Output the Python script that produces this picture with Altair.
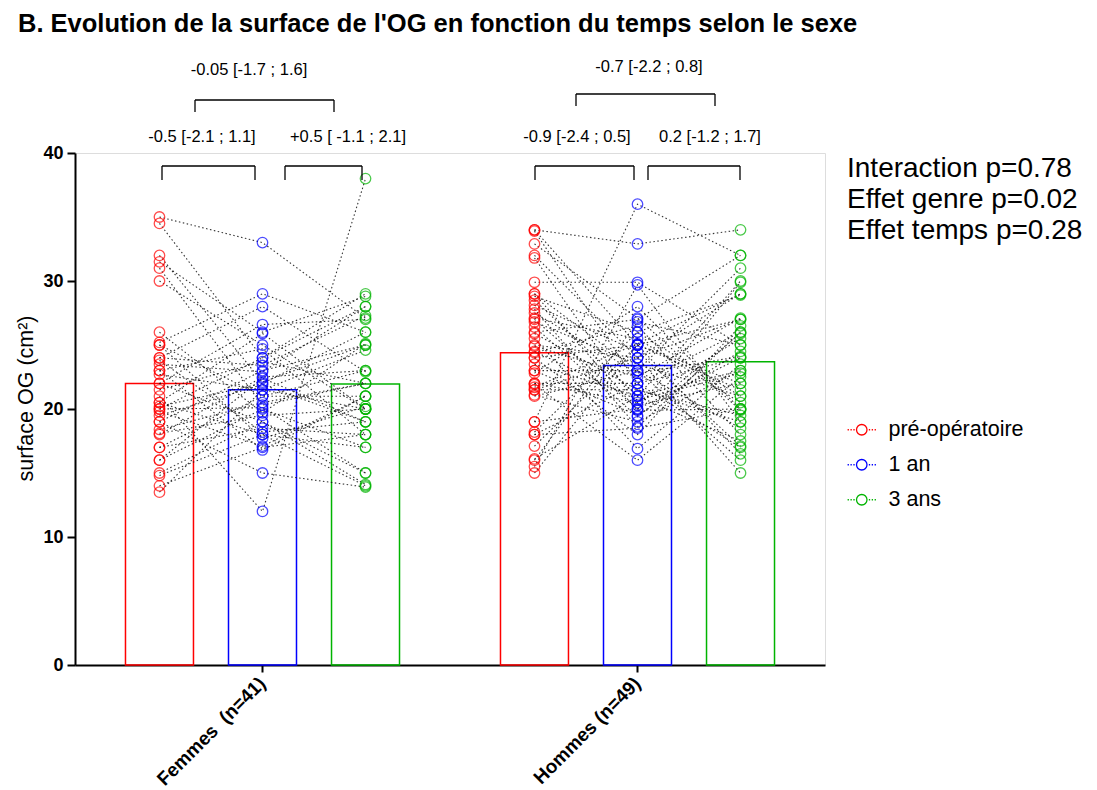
import altair as alt
import pandas as pd

title_text = "B. Evolution de la surface de l'OG en fonction du temps selon le sexe"
groups = ["Femmes \u00a0(n=41)", "Hommes (n=49)"]
times = ["pré-opératoire", "1 an", "3 ans"]
colors = ["#FF0000", "#0000FF", "#00B400"]

# Femmes, one value per patient (same patient order in the three lists)
femmes_pre = [35, 34.5, 32, 31.5, 31, 30, 26, 25.2, 25, 25, 24, 24, 23.8, 23.5, 23, 23, 22.7, 22, 22, 21.5,
              21, 20.5, 20.5, 20.2, 20, 20, 19.8, 19.5, 19, 19, 18.4, 18.1, 18, 17, 17, 16, 16, 15, 14.8, 14, 13.5]
femmes_1an = [33, 24, 22.1, 26, 20.3, 25, 19.7, 29, 21, 17.7, 23.4, 28, 18.2, 22.9, 24.7, 16.8, 21.5, 26.6, 19, 23.7,
              12, 25.9, 18, 22, 20.1, 24, 17.1, 21.9, 15, 23, 20.5, 19.5, 22.5, 18.5, 21, 20, 22.4, 19, 18, 17, 21.5]
femmes_3ans = [27.1, 29, 25, 28.8, 22, 20, 25.1, 26, 23, 20.2, 27.3, 22.9, 19, 28, 18, 21, 24.6, 27, 14.1, 22,
               38, 20, 17, 26, 15, 28, 21, 19, 13.9, 25, 22, 20, 23, 18, 21, 17, 19, 15, 14, 18, 20]

# Hommes
hommes_pre = [34, 34, 33.9, 32.9, 32, 31.8, 29.9, 29, 29, 28.8, 28.5, 28.1, 27.8, 27.5, 27.1, 27, 26.8, 26.4, 26, 25.9,
              25.5, 25, 24.9, 24.5, 24.4, 24, 24, 23.5, 23, 23, 22.8, 22, 22, 21.9, 21.7, 21.5, 21.5, 21.1, 21, 19,
              19, 18.2, 18, 18, 17.1, 16.1, 16, 15.5, 15]
hommes_1an = [25, 32.9, 22, 27.1, 24, 20.3, 29.9, 23, 19.9, 26, 21, 24.5, 18.6, 22.8, 25.5, 20, 23.5, 19.4, 27, 21.5,
              16.9, 24, 22.5, 20.7, 26.5, 18, 25, 21, 23, 19.5, 28, 20.5, 22, 16, 25.1, 21.5, 24, 19, 23, 36,
              20, 26, 22, 18.5, 25, 21, 26.8, 29.7, 25]
hommes_3ans = [27, 34, 24, 19.9, 29, 22, 25, 31, 20, 28.9, 23, 17.1, 26, 24.1, 20.5, 29.9, 21, 25.9, 32, 19,
               23.5, 15, 27.1, 22.8, 18, 26.5, 21.5, 30, 16, 24.5, 20, 25.5, 17, 22.5, 29, 19.5, 27, 23, 18.5, 32,
               24, 21, 26, 20, 22, 17.5, 25, 19, 16.5]

# bar heights (group means)
bar_femmes = [22.0, 21.5, 21.95]
bar_hommes = [24.4, 23.4, 23.7]

stats_lines = ["Interaction p=0.78", "Effet genre p=0.02", "Effet temps p=0.28"]

comparisons = [
    ("-0.05 [-1.7 ; 1.6]", "-0.5 [-2.1 ; 1.1]", "+0.5 [ -1.1 ; 2.1]"),
    ("-0.7 [-2.2 ; 0.8]", "-0.9 [-2.4 ; 0.5]", "0.2 [-1.2 ; 1.7]"),
]

FONT = "Liberation Sans, Arial, Helvetica, sans-serif"

# ---------- tables ----------
rows = []
for g, series in zip(groups, [(femmes_pre, femmes_1an, femmes_3ans), (hommes_pre, hommes_1an, hommes_3ans)]):
    for i in range(len(series[0])):
        for k, t in enumerate(times):
            rows.append({"groupe": g, "temps": t, "k": k, "patient": f"{g}-{i}", "surface": series[k][i]})
df = pd.DataFrame(rows)

bar_rows = []
for g, means in zip(groups, [bar_femmes, bar_hommes]):
    for t, m in zip(times, means):
        bar_rows.append({"groupe": g, "temps": t, "surface": m})
bars_df = pd.DataFrame(bar_rows)

one = pd.DataFrame({"k": [0]})

# ---------- encodings ----------
x_enc = alt.X(
    "groupe:N",
    scale=alt.Scale(domain=groups, paddingInner=0, paddingOuter=0),
    axis=alt.Axis(title=None, labelAngle=-45, labelFontSize=19, labelFontWeight="bold",
                  labelFont=FONT, labelColor="black", labelAlign="right", labelBaseline="middle",
                  domainWidth=2, domainColor="black",
                  tickWidth=2, tickColor="black", tickSize=7, labelPadding=8),
)
xoff_enc = alt.XOffset("temps:N", scale=alt.Scale(domain=times, paddingInner=0.34, paddingOuter=0.49))
y_enc = alt.Y(
    "surface:Q",
    scale=alt.Scale(domain=[0, 40], nice=False),
    axis=alt.Axis(values=[0, 10, 20, 30, 40], title="surface OG (cm²)", titleFontSize=21.5,
                  titleFontWeight="normal", titleFont=FONT, titleColor="black",
                  titleX=-49, titleY=245, titleAngle=-90, titleBaseline="middle", titleAlign="center",
                  labelFontSize=18, labelFontWeight="bold", labelFont=FONT, labelColor="black",
                  domainWidth=2, domainColor="black", tickWidth=2, tickColor="black", tickSize=8,
                  labelPadding=4, grid=False),
)

sym_path = ("M-1,0A1,1,0,1,1,1,0A1,1,0,1,1,-1,0Z"
            "M-2.7,0L-2.45,0M-2.15,0L-1.9,0M-1.6,0L-1.35,0"
            "M1.35,0L1.6,0M1.9,0L2.15,0M2.45,0L2.7,0")
legend = alt.Legend(title=None, orient="none", legendX=776, legendY=266, symbolType=sym_path,
                    symbolSize=110, symbolStrokeWidth=1.3, labelFontSize=21.5, labelFont=FONT,
                    labelColor="black", labelOffset=16, rowPadding=12, padding=0)
color_scale = alt.Scale(domain=times, range=colors)

bars = alt.Chart(bars_df).mark_bar(fill="white", fillOpacity=0, strokeWidth=1.5).encode(
    x=x_enc, xOffset=xoff_enc, y=y_enc,
    stroke=alt.Stroke("temps:N", scale=color_scale, legend=legend),
)

lines = alt.Chart(df).mark_line(color="#111111", strokeWidth=1.1, strokeDash=[1.5, 2.5], opacity=0.85).encode(
    x=x_enc, xOffset=xoff_enc, y=y_enc, detail="patient:N", order=alt.Order("k:Q"),
)

points = alt.Chart(df).mark_point(shape="circle", filled=False, size=110, strokeWidth=1.3).encode(
    x=x_enc, xOffset=xoff_enc, y=y_enc,
    stroke=alt.Stroke("temps:N", scale=color_scale, legend=legend),
)

layers = [bars, lines, points]


def hrule(x1, x2, y):
    return alt.Chart(one).mark_rule(color="black", strokeWidth=1.3).encode(
        x=alt.value(x1), x2=alt.value(x2), y=alt.value(y))


def vrule(x, y1, y2):
    return alt.Chart(one).mark_rule(color="black", strokeWidth=1.3).encode(
        x=alt.value(x), y=alt.value(y1), y2=alt.value(y2))


def bracket(x1, x2, ytop, ybot):
    return [hrule(x1, x2, ytop), vrule(x1, ytop, ybot), vrule(x2, ytop, ybot)]


def label(txt, x, y, size=16.5, weight="normal", align="center"):
    return alt.Chart(one).mark_text(fontSize=size, fontWeight=weight, font=FONT, color="black",
                                    align=align, baseline="alphabetic").encode(
        x=alt.value(x), y=alt.value(y), text=alt.value(txt))


# brackets (pixel positions relative to plot area)
layers += bracket(120, 259, -53, -41)
layers += bracket(87, 180, 13, 27)
layers += bracket(210, 287, 13, 27)
layers += bracket(501, 640, -59, -47)
layers += bracket(460, 559, 13, 27)
layers += bracket(573, 665, 13, 27)

layers.append(label(comparisons[0][0], 174, -78))
layers.append(label(comparisons[0][1], 127, -11))
layers.append(label(comparisons[0][2], 273, -11))
layers.append(label(comparisons[1][0], 574, -81))
layers.append(label(comparisons[1][1], 502, -11))
layers.append(label(comparisons[1][2], 635, -11))

# stats text
stats = alt.Chart(one).mark_text(fontSize=28, font=FONT, color="black", align="left",
                                 baseline="alphabetic", lineHeight=31).encode(
    x=alt.value(772), y=alt.value(24), text=alt.value(stats_lines))
layers.append(stats)

# title
layers.append(label(title_text, -57, -121, size=25.5, weight="bold", align="left"))

chart = alt.layer(*layers).properties(
    width=750, height=512,
    autosize=alt.AutoSizeParams(type="none"),
    padding={"left": 75, "top": 153, "right": 272, "bottom": 125},
).configure_view(stroke=None).configure(font=FONT)

chart.save("out.html", embed_options={"renderer": "svg", "actions": False})
